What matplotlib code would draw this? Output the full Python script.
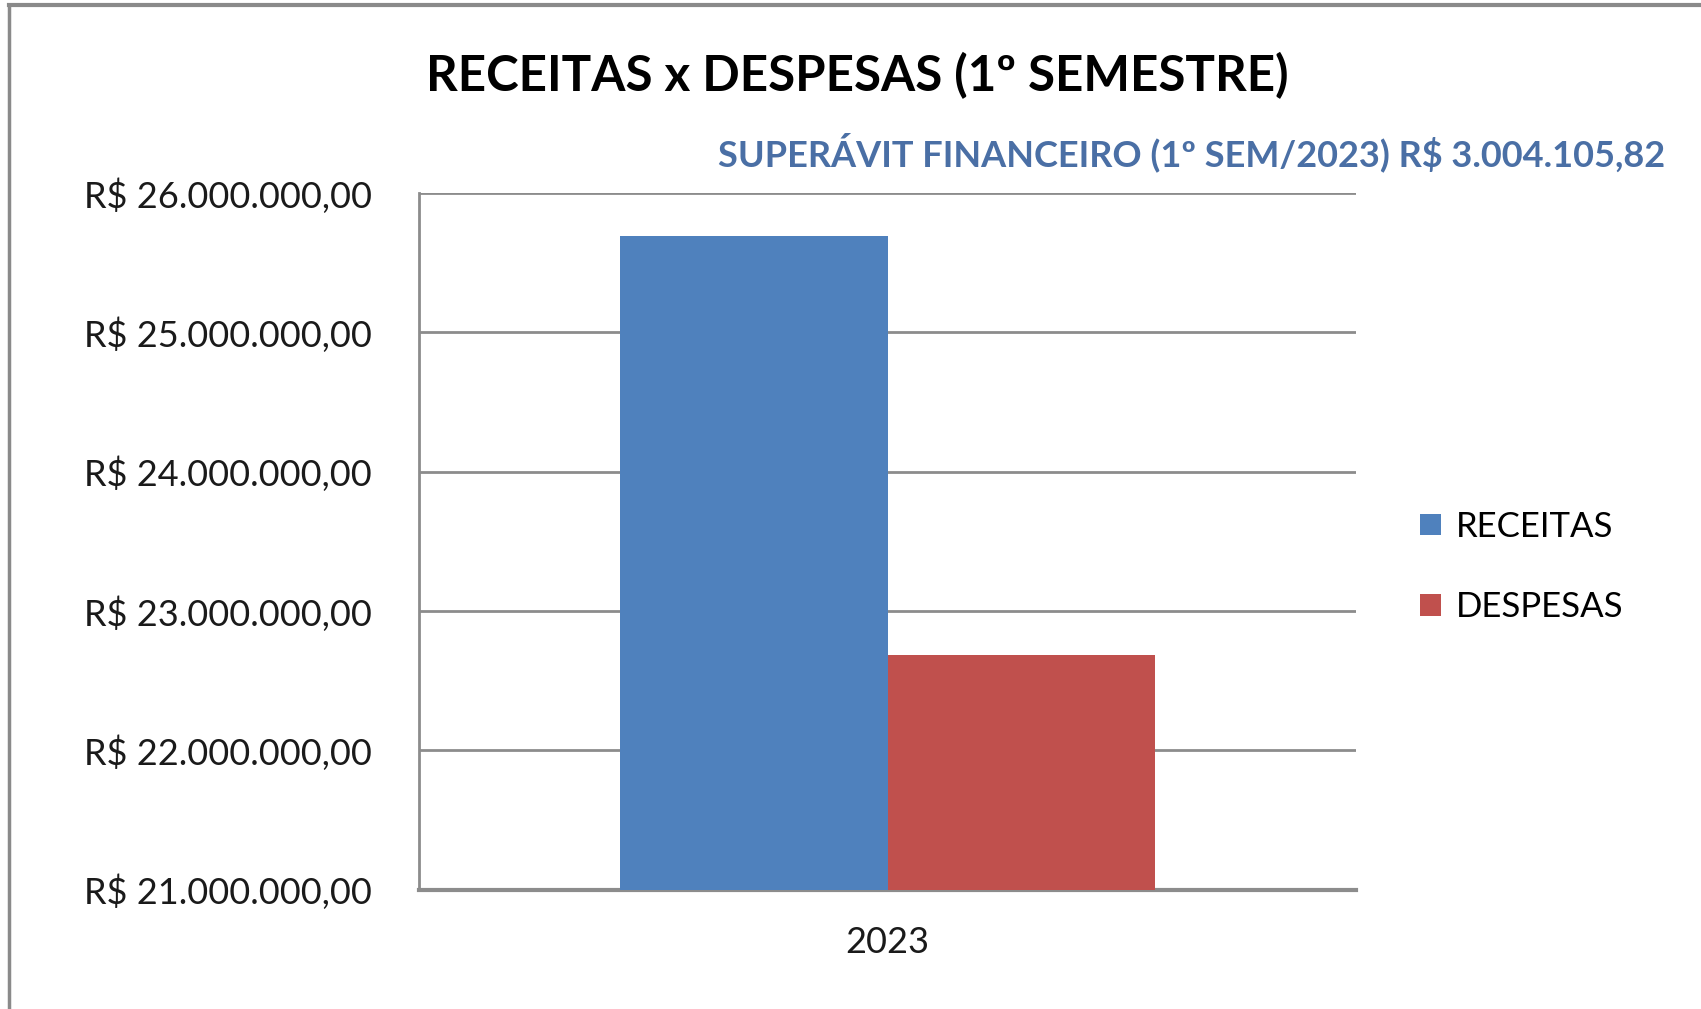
import matplotlib
matplotlib.use("Agg")
import matplotlib.pyplot as plt
from matplotlib.ticker import FuncFormatter

plt.rcParams['font.family'] = ['Lato', 'DejaVu Sans']

categories = ["2023"]
series_names = ["RECEITAS", "DESPESAS"]
receitas = [25690000.00]
despesas = [22685894.18]
y_ticks = [21000000, 22000000, 23000000, 24000000, 25000000, 26000000]
title = "RECEITAS x DESPESAS (1º SEMESTRE)"
subtitle = "SUPERÁVIT FINANCEIRO (1º SEM/2023) R$ 3.004.105,82"

blue = "#4F81BD"
red = "#C0504D"
grid_c = "#8C8C8C"

W, H = 1701, 1009
fig = plt.figure(figsize=(W / 100, H / 100), dpi=100)
fig.patch.set_facecolor("white")

# outer chart border (top and left visible)
fig.add_artist(plt.Line2D([9 / W, 9 / W], [0, 1 - 5 / H], transform=fig.transFigure,
                          color="#8A8A8A", lw=2.5))
fig.add_artist(plt.Line2D([9 / W, 1], [1 - 5 / H, 1 - 5 / H], transform=fig.transFigure,
                          color="#8A8A8A", lw=3))

ax = fig.add_axes([419 / W, 1 - 889.5 / H, (1356 - 419) / W, (889.5 - 193) / H])
bw = 0.2855
x = [0]
ax.bar([xi - bw / 2 for xi in x], receitas, width=bw, color=blue, label=series_names[0], zorder=3)
ax.bar([xi + bw / 2 for xi in x], despesas, width=bw, color=red, label=series_names[1], zorder=3)

ax.set_xlim(-0.5, 0.5)
ax.set_ylim(y_ticks[0], y_ticks[-1])
ax.set_yticks(y_ticks)
ax.yaxis.set_major_formatter(FuncFormatter(
    lambda v, p: "R$ " + f"{v:,.2f}".replace(",", "X").replace(".", ",").replace("X", ".")))
ax.set_xticks(x)
ax.set_xticklabels(categories)
ax.tick_params(axis="y", length=0, pad=34, labelsize=26, labelcolor="#1a1a1a")
ax.tick_params(axis="x", length=0, pad=26, labelsize=26, labelcolor="#1a1a1a")
ax.grid(axis="y", color=grid_c, lw=2, zorder=0)
for s in ["top", "right"]:
    ax.spines[s].set_visible(False)
ax.spines["left"].set_color(grid_c)
ax.spines["left"].set_linewidth(2)
ax.spines["bottom"].set_color(grid_c)
ax.spines["bottom"].set_linewidth(3)

fig.text(857 / W, 1 - 76 / H, title, ha="center", va="center", fontsize=35.5,
         fontweight="bold", color="black")
fig.text(1665 / W, 1 - 152 / H, subtitle, ha="right", va="center", fontsize=26,
         fontweight="bold", color="#4A6FA5")

leg = ax.legend(loc="center left", bbox_to_anchor=(1403 / W, 1 - 567 / H),
                bbox_transform=fig.transFigure, frameon=False, fontsize=25,
                handlelength=0.58, handleheight=0.58, handletextpad=0.45,
                labelspacing=1.4, borderpad=0)

fig.savefig("out.png", dpi=100, facecolor="white")
